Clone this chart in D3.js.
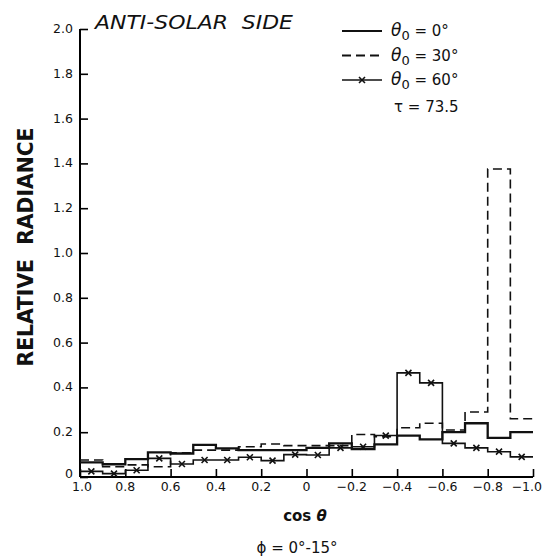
<!DOCTYPE html>
<meta charset="utf-8">
<script src="https://d3js.org/d3.v7.min.js"></script>
<style>
  body { margin: 0; background: #fff; }
  text { font-family: "DejaVu Sans", sans-serif; fill: #111; }
</style>
<div id="my_dataviz"></div>
<script>
  // bin edges in cos(theta), left to right
  var binEdges = [1.0, 0.9, 0.8, 0.7, 0.6, 0.5, 0.4, 0.3, 0.2, 0.1, 0.0,
    -0.1, -0.2, -0.3, -0.4, -0.5, -0.6, -0.7, -0.8, -0.9, -1.0];

  // relative radiance per bin
  var theta0 = [0.065, 0.057, 0.08, 0.11, 0.105, 0.143, 0.128, 0.12, 0.12, 0.12,
    0.13, 0.15, 0.124, 0.146, 0.185, 0.168, 0.20, 0.24, 0.175, 0.20];
  var theta30 = [0.076, 0.046, 0.054, 0.046, 0.108, 0.12, 0.12, 0.135, 0.147, 0.14,
    0.14, 0.14, 0.19, 0.18, 0.22, 0.24, 0.21, 0.29, 1.375, 0.26];
  var theta60 = [0.025, 0.015, 0.03, 0.083, 0.058, 0.076, 0.076, 0.088, 0.073, 0.10,
    0.098, 0.13, 0.135, 0.185, 0.465, 0.42, 0.15, 0.13, 0.113, 0.09];

  var xTicks = [1.0, 0.8, 0.6, 0.4, 0.2, 0, -0.2, -0.4, -0.6, -0.8, -1.0];
  var xTickLabels = ["1.0", "0.8", "0.6", "0.4", "0.2", "0", "\u22120.2", "\u22120.4", "\u22120.6", "\u22120.8", "\u22121.0"];
  var yTicks = [0, 0.2, 0.4, 0.6, 0.8, 1.0, 1.2, 1.4, 1.6, 1.8, 2.0];
  var yTickLabels = ["0", "0.2", "0.4", "0.6", "0.8", "1.0", "1.2", "1.4", "1.6", "1.8", "2.0"];

  var legendItems = [
    { label: "0\u00b0", values: theta0, dash: null, width: 2.3, marks: false },
    { label: "30\u00b0", values: theta30, dash: "9,5", width: 1.6, marks: false },
    { label: "60\u00b0", values: theta60, dash: null, width: 1.6, marks: true }
  ];

  var width = 545, height = 560;

  var svg = d3.select("#my_dataviz")
    .append("svg")
    .attr("width", width)
    .attr("height", height);

  var x = d3.scaleLinear().domain([1, -1]).range([80, 533]);
  var y = d3.scaleLinear().domain([0, 2]).range([477, 29]);

  // axes: ticks point inward
  var xAxis = svg.append("g")
    .attr("transform", "translate(0," + y(0) + ")")
    .call(d3.axisTop(x).tickValues(xTicks).tickSize(8).tickFormat(""));
  xAxis.select(".domain").attr("d", "M" + x(1) + ",0H" + x(-1)).style("stroke-width", 2);
  xAxis.selectAll(".tick line").style("stroke-width", 1.6);

  var yAxis = svg.append("g")
    .attr("transform", "translate(" + x(1) + ",0)")
    .call(d3.axisRight(y).tickValues(yTicks).tickSize(8).tickFormat(""));
  yAxis.select(".domain").attr("d", "M0," + y(0) + "V" + y(2)).style("stroke-width", 2);
  yAxis.selectAll(".tick line").style("stroke-width", 1.6);

  svg.selectAll(".xlab")
    .data(xTicks)
    .enter()
    .append("text")
    .attr("x", function (d, i) {
      if (i == 0) return x(d) + 2;
      return i == xTicks.length - 1 ? 542 : x(d);
    })
    .attr("y", 491)
    .attr("text-anchor", function (d, i) { return i == xTicks.length - 1 ? "end" : "middle"; })
    .style("font-size", "12.5px")
    .text(function (d, i) { return xTickLabels[i]; });

  svg.selectAll(".ylab")
    .data(yTicks)
    .enter()
    .append("text")
    .attr("x", 73)
    .attr("y", function (d, i) { return y(d) + (i == 0 ? 1 : 4); })
    .attr("text-anchor", "end")
    .style("font-size", "12.5px")
    .text(function (d, i) { return yTickLabels[i]; });

  // histogram step lines
  var stepLine = d3.line()
    .x(function (d) { return x(d[0]); })
    .y(function (d) { return y(d[1]); })
    .curve(d3.curveStepAfter);

  legendItems.forEach(function (s) {
    var pts = s.values.map(function (v, i) { return [binEdges[i], v]; });
    pts.push([binEdges[binEdges.length - 1], s.values[s.values.length - 1]]);
    svg.append("path")
      .attr("d", stepLine(pts))
      .style("fill", "none")
      .style("stroke", "#111")
      .style("stroke-width", s.width)
      .style("stroke-dasharray", s.dash);
    if (s.marks) {
      svg.selectAll(".mk")
        .data(s.values)
        .enter()
        .append("path")
        .attr("d", function (v, i) {
          var cx = x((binEdges[i] + binEdges[i + 1]) / 2), cy = y(v), r = 3;
          return "M" + (cx - r) + "," + (cy - r) + "L" + (cx + r) + "," + (cy + r) +
            "M" + (cx - r) + "," + (cy + r) + "L" + (cx + r) + "," + (cy - r);
        })
        .style("stroke", "#111")
        .style("stroke-width", 1.6);
    }
  });

  // titles
  svg.append("text")
    .attr("x", 95)
    .attr("y", 29)
    .style("font-size", "19px")
    .style("font-style", "italic")
    .attr("textLength", 198)
    .attr("lengthAdjust", "spacingAndGlyphs")
    .attr("xml:space", "preserve")
    .text("ANTI-SOLAR  SIDE");

  svg.append("text")
    .attr("transform", "translate(33,247) rotate(-90)")
    .attr("text-anchor", "middle")
    .style("font-family", "'DejaVu Sans Condensed', 'DejaVu Sans', sans-serif")
    .style("font-size", "22px")
    .style("font-weight", "bold")
    .attr("textLength", 239)
    .attr("lengthAdjust", "spacingAndGlyphs")
    .attr("xml:space", "preserve")
    .text("RELATIVE  RADIANCE");

  var xt = svg.append("text")
    .attr("x", 305)
    .attr("y", 521)
    .attr("text-anchor", "middle")
    .style("font-size", "15px")
    .style("font-weight", "bold");
  xt.append("tspan").text("cos ");
  xt.append("tspan").style("font-style", "italic").text("\u03b8");

  svg.append("text")
    .attr("x", 297)
    .attr("y", 553)
    .attr("text-anchor", "middle")
    .style("font-size", "15px")
    .text("\u03d5 = 0\u00b0-15\u00b0");

  // legend
  legendItems.forEach(function (s, i) {
    var ly = 31 + i * 24.5;
    svg.append("line")
      .attr("x1", 342).attr("x2", 382)
      .attr("y1", ly).attr("y2", ly)
      .style("stroke", "#111")
      .style("stroke-width", s.marks ? 1.4 : 1.8)
      .style("stroke-dasharray", s.dash);
    if (s.marks) {
      svg.append("path")
        .attr("d", "M359," + (ly - 3) + "L365," + (ly + 3) + "M359," + (ly + 3) + "L365," + (ly - 3))
        .style("stroke", "#111")
        .style("stroke-width", 1.6);
    }
    var t = svg.append("text")
      .attr("x", 391)
      .attr("y", ly + 5)
      .style("font-size", "17px");
    t.append("tspan").style("font-style", "italic").text("\u03b8");
    t.append("tspan").attr("dy", 4).style("font-size", "13px").text("0");
    t.append("tspan").attr("dy", -4).style("font-size", "15px").text(" = " + s.label);
  });

  svg.append("text")
    .attr("x", 394)
    .attr("y", 112)
    .style("font-size", "15px")
    .text("\u03c4 = 73.5");
</script>
